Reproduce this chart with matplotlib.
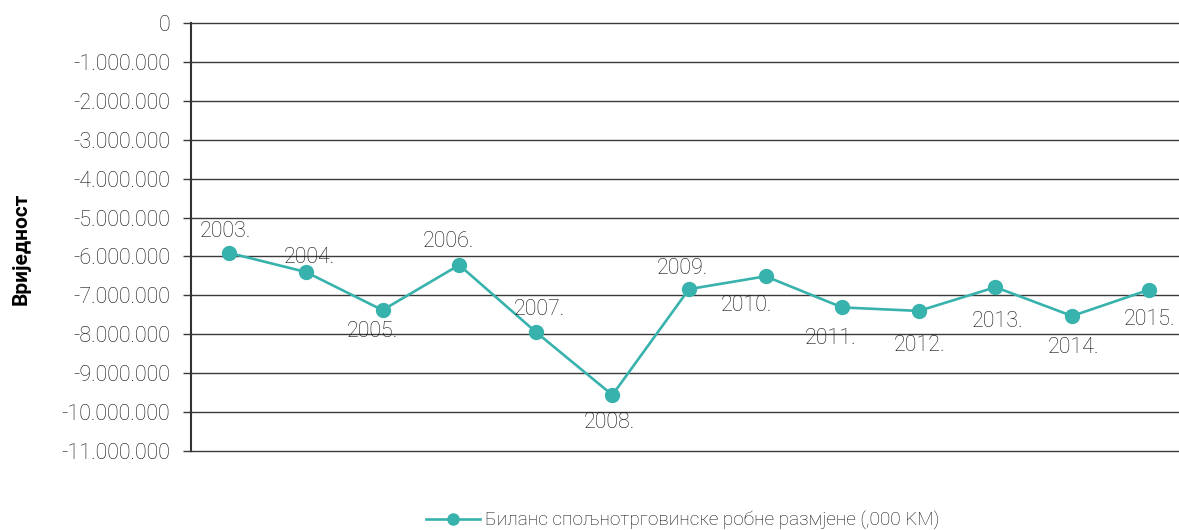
import matplotlib
matplotlib.use("Agg")
import matplotlib.pyplot as plt
from matplotlib.ticker import FuncFormatter, MultipleLocator

years = ["2003.", "2004.", "2005.", "2006.", "2007.", "2008.", "2009.",
         "2010.", "2011.", "2012.", "2013.", "2014.", "2015."]
balance = [-5910000, -6400000, -7380000, -6220000, -7940000, -9560000, -6840000,
           -6510000, -7310000, -7400000, -6790000, -7530000, -6860000]
# label offsets in pixels (dx, dy) relative to each point
label_offsets = [(-4, 21), (3, 15), (-10, -21), (-11, 24), (4, 22), (-3, -28), (-7, 21),
                 (-19, -29), (-12, -31), (1, -35), (2, -34), (1, -32), (1, -30)]
series_name = "Биланс спољнотрговинске робне размјене (,000 KM)"
y_label = "Вриједност"

plt.rcParams['font.family'] = ['Roboto', 'DejaVu Sans']
color = "#38B2AC"
text_color = "#111111"

fig = plt.figure(figsize=(11.79, 5.30), dpi=100)
W, H = 1179, 530
ax = fig.add_axes([191 / W, (H - 451) / H, 996 / W, 428 / H])

x = list(range(len(years)))
ax.plot(x, balance, color=color, lw=1.9, marker='o', markersize=10,
        markerfacecolor=color, markeredgecolor=color, label=series_name, zorder=3)

for xi, yi, lab, (dx, dy) in zip(x, balance, years, label_offsets):
    ax.annotate(lab, (xi, yi), xytext=(dx * 0.72, dy * 0.72), textcoords='offset points',
                ha='center', va='center', fontsize=15.5, fontweight='light',
                color=text_color, zorder=4)

ax.set_xlim(-0.5, len(years) - 0.5)
ax.set_ylim(-11000000, 0)
ax.yaxis.set_major_locator(MultipleLocator(1000000))
ax.yaxis.set_major_formatter(FuncFormatter(lambda v, p: f"{int(round(v)):,}".replace(",", ".")))
ax.set_xticks([])
ax.grid(axis='y', color='#3a3a3a', lw=1.0, zorder=1)
for gl in ax.get_ygridlines():
    gl.set_clip_on(False)
ax.set_axisbelow(True)
for s in ['top', 'right', 'bottom']:
    ax.spines[s].set_visible(False)
ax.spines['left'].set_color('#333333')
ax.spines['left'].set_linewidth(1.5)
ax.tick_params(axis='y', length=6, width=1.0, color='#3a3a3a', labelsize=15.5,
               labelcolor=text_color, pad=9)
for t in ax.get_yticklabels():
    t.set_fontweight('light')

fig.text(21 / W, (H - 249) / H, y_label, rotation=90, ha='center', va='center',
         fontsize=15, fontweight='bold', color='black')

leg = fig.legend(handles=ax.get_lines(), loc='center', bbox_to_anchor=(683 / W, (H - 520) / H),
                 frameon=False, fontsize=13.7, handlelength=2.8, handletextpad=0.3)
for t in leg.get_texts():
    t.set_color(text_color)
    t.set_fontweight('light')
leg.get_lines()[0].set_markersize(8)

fig.savefig("out.png", dpi=100)
